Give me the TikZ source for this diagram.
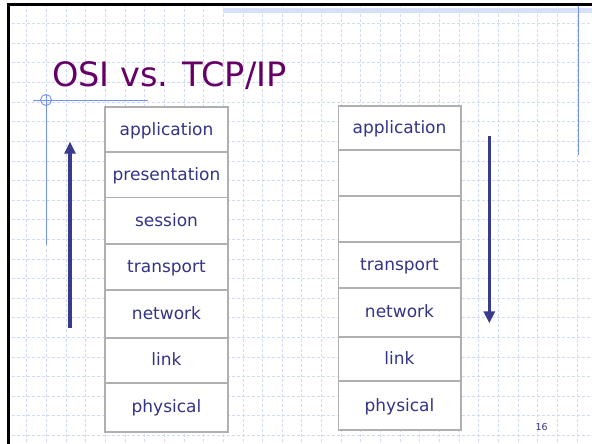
\documentclass[tikz,border=0pt]{standalone}
\usepackage{fontspec}
\setmainfont{DejaVu Sans}
\usetikzlibrary{arrows.meta}
\definecolor{titlepurple}{RGB}{102,0,102}
\definecolor{txtblue}{RGB}{51,51,136}
\definecolor{arrblue}{RGB}{58,58,140}
\definecolor{boxgray}{RGB}{176,176,176}
\definecolor{gridblue}{RGB}{208,218,246}
\definecolor{deco}{RGB}{115,145,240}
\definecolor{band}{RGB}{214,224,248}
\tikzset{
  gridline/.style={draw=gridblue, line width=0.6pt, dash pattern=on 3pt off 2pt},
  layer/.style={draw=boxgray, line width=1.6pt, fill=white, inner sep=0pt,
    text=txtblue, font=\fontsize{17}{18}\selectfont, text height=11.5pt, text depth=0pt},
  flow/.style={draw=arrblue, line width=3.6pt, -{Triangle[length=12pt,width=11pt]}},
  decoline/.style={draw=deco, line width=0.9pt},
}
\begin{document}
\begin{tikzpicture}[x=1pt,y=-1pt]
\useasboundingbox (0,0) rectangle (592,444);
\fill[white] (0,0) rectangle (592,444);
% grid
\foreach \k in {1,...,29} {\draw[gridline] ({7+\k*19.65},4) -- ({7+\k*19.65},444);}
\foreach \k in {1,...,22} {\draw[gridline] (7,{4+\k*19.6}) -- (592,{4+\k*19.6});}
% top band
\fill[band] (223,8) rectangle (592,13.3);
% frame
\draw[black, line width=2.8pt] (8.3,444) -- (8.3,4.4) -- (592,4.4);
% decorative blue lines
\draw[decoline] (33,100) -- (148,100);
\draw[decoline] (46,95) -- (46,245);
\draw[decoline] (46,100) circle (5.5);
\draw[decoline] (578.3,6) -- (578.3,155);
% title
\node[anchor=base west, inner sep=0pt, text=titlepurple, font=\fontsize{33.6}{36}\selectfont] (title) at (52,87) {OSI vs. TCP/IP};
% left stack (OSI)
\node[layer, minimum width=123pt, minimum height=44.7pt] (L1) at (166.5,129.35) {application};
\node[layer, minimum width=123pt, minimum height=45.6pt] (L2) at (166.5,174.5) {presentation};
\node[layer, minimum width=123pt, minimum height=46.7pt] (L3) at (166.5,220.65) {session};
\node[layer, minimum width=123pt, minimum height=46pt] (L4) at (166.5,267) {transport};
\node[layer, minimum width=123pt, minimum height=47.7pt] (L5) at (166.5,313.85) {network};
\node[layer, minimum width=123pt, minimum height=45pt] (L6) at (166.5,360.2) {link};
\node[layer, minimum width=123pt, minimum height=49pt] (L7) at (166.5,407.2) {physical};
% right stack (TCP/IP)
\node[layer, minimum width=122.4pt, minimum height=44pt] (R1) at (399.5,128) {application};
\node[layer, minimum width=122.4pt, minimum height=45.7pt] (R2) at (399.5,172.85) {};
\node[layer, minimum width=122.4pt, minimum height=46pt] (R3) at (399.5,218.7) {};
\node[layer, minimum width=122.4pt, minimum height=46pt] (R4) at (399.5,264.7) {transport};
\node[layer, minimum width=122.4pt, minimum height=49pt] (R5) at (399.5,312.2) {network};
\node[layer, minimum width=122.4pt, minimum height=44.3pt] (R6) at (399.5,358.85) {link};
\node[layer, minimum width=122.4pt, minimum height=49pt] (R7) at (399.5,405.5) {physical};
% arrows
\coordinate (upS) at (70,328);
\coordinate (upE) at (70,141.7);
\coordinate (dnS) at (489.3,136);
\coordinate (dnE) at (489.3,323.3);
\draw[flow] (upS) -- (upE);
\draw[flow] (dnS) -- (dnE);
% page number
\node[text=txtblue, font=\fontsize{9.5}{11}\selectfont, inner sep=0pt] (pg) at (541.7,427.3) {16};
\end{tikzpicture}
\end{document}
